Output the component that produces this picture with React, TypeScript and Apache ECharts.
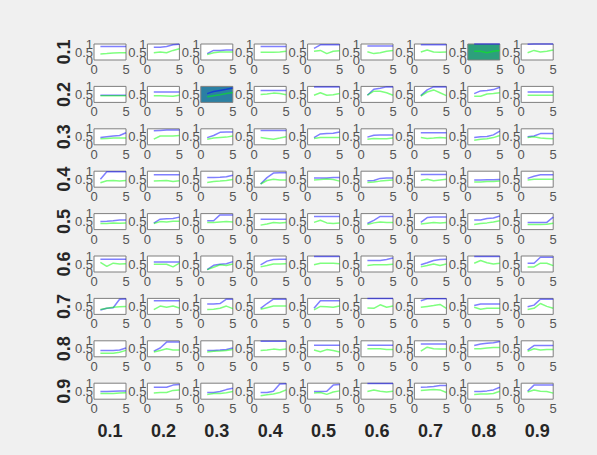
import React, { useEffect, useRef } from "react";
import * as echarts from "echarts";

const rowLabels = ["0.1", "0.2", "0.3", "0.4", "0.5", "0.6", "0.7", "0.8", "0.9"];
const colLabels = ["0.1", "0.2", "0.3", "0.4", "0.5", "0.6", "0.7", "0.8", "0.9"];
const xValues = [1, 2, 3, 4, 5];

// blue series per row (9 panels x 5 points)
const blueR1 = [[0.85,0.85,0.85,0.85,0.85],[0.8,0.8,0.85,0.95,0.98],[0.4,0.6,0.6,0.62,0.62],[0.85,0.85,0.85,0.85,0.85],[0.73,0.95,0.95,0.95,0.95],[0.88,0.88,0.88,0.88,0.88],[0.95,0.95,0.95,0.95,0.95],[1,1,1,1,1],[0.98,1,1,1,1]];
const blueR2 = [[0.45,0.45,0.45,0.45,0.45],[0.65,0.65,0.65,0.65,0.65],[0.55,0.68,0.75,0.82,0.9],[0.75,0.75,0.75,0.75,0.75],[0.97,0.97,0.97,0.97,0.97],[0.45,0.82,0.88,0.97,0.97],[0.42,0.78,0.97,0.97,0.97],[0.55,0.72,0.75,0.8,0.95],[0.65,0.65,0.65,0.65,0.65]];
const blueR3 = [[0.45,0.5,0.55,0.58,0.75],[0.88,0.9,0.92,0.92,0.92],[0.45,0.58,0.78,0.8,0.8],[0.9,0.9,0.9,0.9,0.9],[0.45,0.68,0.7,0.72,0.8],[0.48,0.6,0.62,0.62,0.62],[0.75,0.75,0.75,0.75,0.75],[0.45,0.5,0.52,0.62,0.85],[0.5,0.55,0.7,0.7,0.7]];
const blueR4 = [[0.5,0.97,0.97,0.97,0.97],[0.78,0.78,0.78,0.78,0.78],[0.6,0.6,0.62,0.65,0.75],[0.2,0.6,0.88,0.9,0.9],[0.58,0.58,0.58,0.6,0.6],[0.4,0.42,0.55,0.57,0.57],[0.8,0.8,0.8,0.8,0.8],[0.45,0.45,0.46,0.47,0.48],[0.55,0.68,0.78,0.78,0.78]];
const blueR5 = [[0.5,0.52,0.55,0.6,0.6],[0.4,0.65,0.68,0.7,0.78],[0.55,0.55,0.92,0.92,0.92],[0.65,0.65,0.65,0.65,0.65],[0.82,0.82,0.82,0.82,0.82],[0.38,0.58,0.82,0.82,0.82],[0.45,0.75,0.78,0.78,0.78],[0.6,0.6,0.7,0.72,0.85],[0.45,0.45,0.45,0.45,0.78]];
const blueR6 = [[0.8,0.8,0.8,0.8,0.8],[0.62,0.62,0.62,0.62,0.62],[0.15,0.42,0.48,0.52,0.65],[0.45,0.68,0.78,0.8,0.8],[0.97,0.97,0.97,0.97,0.97],[0.72,0.72,0.72,0.78,0.88],[0.45,0.58,0.72,0.78,0.8],[0.97,0.97,0.97,0.97,0.97],[0.55,0.55,0.92,0.92,0.92]];
const blueR7 = [[0.28,0.38,0.42,0.95,0.97],[0.85,0.85,0.85,0.85,0.85],[0.65,0.65,0.68,0.95,0.95],[0.38,0.68,0.95,0.95,0.95],[0.38,0.85,0.86,0.86,0.86],[1,1,1,1,1],[0.85,0.98,0.98,0.98,0.98],[0.55,0.65,0.65,0.65,0.65],[0.48,0.58,0.95,0.95,0.95]];
const blueR8 = [[0.4,0.4,0.4,0.42,0.55],[0.35,0.55,0.92,0.92,0.92],[0.4,0.4,0.42,0.45,0.55],[0.97,0.97,0.97,0.97,0.97],[0.72,0.72,0.72,0.72,0.72],[0.72,0.72,0.72,0.72,0.72],[0.8,0.8,0.8,0.8,0.8],[0.7,0.8,0.84,0.88,0.95],[0.42,0.7,0.7,0.7,0.7]];
const blueR9 = [[0.48,0.48,0.5,0.52,0.52],[0.74,0.74,0.75,0.88,0.92],[0.42,0.42,0.48,0.6,0.68],[0.42,0.42,0.5,0.95,0.97],[0.48,0.48,0.5,0.88,0.92],[0.98,0.98,0.98,0.98,0.98],[0.75,0.76,0.8,0.85,0.85],[0.48,0.48,0.52,0.58,0.75],[0.5,0.88,0.88,0.88,0.88]];

// green series per row
const greenR1 = [[0.38,0.4,0.44,0.45,0.45],[0.45,0.5,0.45,0.6,0.7],[0.35,0.45,0.5,0.5,0.5],[0.48,0.48,0.48,0.5,0.55],[0.55,0.6,0.4,0.55,0.58],[0.52,0.4,0.45,0.55,0.6],[0.5,0.62,0.5,0.48,0.5],[0.55,0.55,0.45,0.55,0.6],[0.45,0.6,0.5,0.55,0.62]];
const greenR2 = [[0.42,0.42,0.42,0.41,0.41],[0.42,0.42,0.4,0.38,0.45],[0.35,0.42,0.48,0.55,0.62],[0.5,0.52,0.58,0.55,0.48],[0.45,0.6,0.45,0.48,0.55],[0.45,0.7,0.7,0.6,0.45],[0.4,0.65,0.78,0.6,0.42],[0.38,0.38,0.52,0.55,0.6],[0.45,0.45,0.45,0.44,0.44]];
const greenR3 = [[0.38,0.4,0.42,0.42,0.42],[0.35,0.55,0.55,0.55,0.58],[0.35,0.42,0.45,0.48,0.55],[0.45,0.4,0.35,0.42,0.5],[0.4,0.45,0.45,0.45,0.45],[0.35,0.4,0.38,0.38,0.42],[0.45,0.4,0.42,0.45,0.42],[0.28,0.35,0.38,0.45,0.58],[0.45,0.5,0.42,0.4,0.38]];
const greenR4 = [[0.28,0.4,0.42,0.38,0.42],[0.38,0.4,0.42,0.35,0.4],[0.3,0.35,0.38,0.42,0.48],[0.2,0.42,0.5,0.45,0.45],[0.45,0.48,0.52,0.48,0.38],[0.3,0.32,0.38,0.42,0.45],[0.42,0.5,0.4,0.45,0.5],[0.32,0.33,0.35,0.36,0.38],[0.45,0.5,0.5,0.5,0.5]];
const greenR5 = [[0.38,0.38,0.42,0.4,0.42],[0.38,0.5,0.48,0.52,0.52],[0.45,0.45,0.48,0.5,0.48],[0.28,0.35,0.45,0.42,0.45],[0.45,0.58,0.42,0.38,0.42],[0.32,0.42,0.48,0.45,0.45],[0.35,0.4,0.45,0.42,0.45],[0.32,0.38,0.42,0.48,0.55],[0.32,0.32,0.32,0.34,0.4]];
const greenR6 = [[0.6,0.35,0.55,0.5,0.52],[0.48,0.48,0.48,0.32,0.55],[0.15,0.3,0.45,0.4,0.5],[0.32,0.4,0.5,0.5,0.52],[0.45,0.55,0.55,0.55,0.52],[0.4,0.45,0.45,0.45,0.48],[0.32,0.4,0.5,0.4,0.5],[0.55,0.72,0.58,0.5,0.55],[0.32,0.32,0.55,0.55,0.4]];
const greenR7 = [[0.3,0.38,0.45,0.48,0.5],[0.3,0.52,0.45,0.52,0.4],[0.3,0.32,0.38,0.52,0.36],[0.32,0.42,0.52,0.52,0.52],[0.28,0.5,0.48,0.45,0.52],[0.4,0.38,0.6,0.45,0.52],[0.45,0.5,0.55,0.62,0.38],[0.45,0.32,0.38,0.38,0.38],[0.3,0.38,0.68,0.5,0.38]];
const greenR8 = [[0.22,0.22,0.22,0.28,0.4],[0.3,0.4,0.5,0.42,0.42],[0.3,0.35,0.36,0.4,0.45],[0.4,0.42,0.48,0.44,0.48],[0.42,0.32,0.45,0.4,0.3],[0.5,0.5,0.5,0.45,0.45],[0.35,0.6,0.5,0.48,0.48],[0.5,0.5,0.55,0.58,0.58],[0.35,0.5,0.42,0.45,0.45]];
const greenR9 = [[0.35,0.35,0.36,0.38,0.4],[0.38,0.42,0.42,0.55,0.58],[0.3,0.35,0.36,0.4,0.48],[0.22,0.28,0.32,0.42,0.58],[0.38,0.42,0.3,0.45,0.52],[0.48,0.58,0.5,0.45,0.5],[0.55,0.58,0.6,0.58,0.42],[0.3,0.32,0.32,0.36,0.5],[0.45,0.58,0.5,0.48,0.38]];

const blueRows = [blueR1, blueR2, blueR3, blueR4, blueR5, blueR6, blueR7, blueR8, blueR9];
const greenRows = [greenR1, greenR2, greenR3, greenR4, greenR5, greenR6, greenR7, greenR8, greenR9];

// y tick labels: ends (0, 1) and middle (0.5)
const yEndTicks = [0, 1];
const yMidTick = 0.5;

// highlighted panels: [row, col]
const highlightCells = [[0, 7], [1, 2]];
const highlightColors = ["#2ca07c", "#2b80a3"];

export default function App() {
  const ref = useRef<HTMLDivElement>(null);
  useEffect(() => {
    if (!ref.current) return;
    const chart = echarts.init(ref.current, null, { renderer: "svg" });
    const left0 = 94, colStep = 53.4, top0 = 44, rowStep = 42.4, boxW = 32, boxH = 16;
    const font = "'Liberation Sans', Arial, sans-serif";
    const grids: any[] = [], xAxes: any[] = [], yAxes: any[] = [], series: any[] = [];
    const labelBase = { fontSize: 13, color: "#555555", fontFamily: font, hideOverlap: false };
    const hidden = { axisLine: { show: false }, axisTick: { show: false }, splitLine: { show: false } };
    for (let r = 0; r < 9; r++) {
      for (let c = 0; c < 9; c++) {
        const i = r * 9 + c;
        const hi = highlightCells.findIndex((h) => h[0] === r && h[1] === c);
        grids.push({
          left: left0 + c * colStep, top: top0 + r * rowStep, width: boxW, height: boxH,
          show: true, backgroundColor: hi >= 0 ? highlightColors[hi] : "#ffffff",
          borderColor: "#7f7f7f", borderWidth: 1,
        });
        xAxes.push({
          gridIndex: i, type: "value", min: 0, max: 5, interval: 5, ...hidden,
          axisLabel: { ...labelBase, margin: 3, showMinLabel: true, showMaxLabel: true },
        });
        // axis showing 0 and 1
        yAxes.push({
          gridIndex: i, type: "value", min: yEndTicks[0], max: yEndTicks[1], interval: 1, position: "left", ...hidden,
          axisLabel: { ...labelBase, margin: 1, showMinLabel: true, showMaxLabel: true },
        });
        // axis showing 0.5 only
        yAxes.push({
          gridIndex: i, type: "value", min: 0, max: 1, interval: yMidTick, position: "left", offset: 0, ...hidden,
          axisLabel: {
            ...labelBase, margin: 1, showMinLabel: false, showMaxLabel: false,
            formatter: (v: number) => (v === yMidTick ? String(yMidTick) : ""),
          },
        });
        series.push({
          type: "line", xAxisIndex: i, yAxisIndex: 2 * i, symbol: "none", clip: false,
          lineStyle: { color: "rgba(0,0,255,0.5)", width: 1.5 },
          data: xValues.map((x, k) => [x, blueRows[r][c][k]]),
        });
        series.push({
          type: "line", xAxisIndex: i, yAxisIndex: 2 * i, symbol: "none", clip: false,
          lineStyle: { color: "rgba(0,255,0,0.5)", width: 1.5 },
          data: xValues.map((x, k) => [x, greenRows[r][c][k]]),
        });
      }
    }
    const graphic: any[] = [];
    rowLabels.forEach((t, r) => {
      graphic.push({
        type: "text", x: 64, y: top0 + r * rowStep + boxH / 2, rotation: Math.PI / 2,
        style: { text: t, fontSize: 18, fontWeight: "bold", fill: "#262626", fontFamily: font, align: "center", verticalAlign: "middle" },
      });
    });
    colLabels.forEach((t, c) => {
      graphic.push({
        type: "text", x: left0 + c * colStep + boxW / 2, y: 431,
        style: { text: t, fontSize: 18, fontWeight: "bold", fill: "#262626", fontFamily: font, align: "center", verticalAlign: "middle" },
      });
    });
    chart.setOption({
      animation: false,
      backgroundColor: "#f0f0f0",
      grid: grids, xAxis: xAxes, yAxis: yAxes, series, graphic,
    });
    return () => chart.dispose();
  }, []);
  return <div ref={ref} style={{ position: "absolute", left: 0, top: 0, width: 597, height: 455 }} />;
}
